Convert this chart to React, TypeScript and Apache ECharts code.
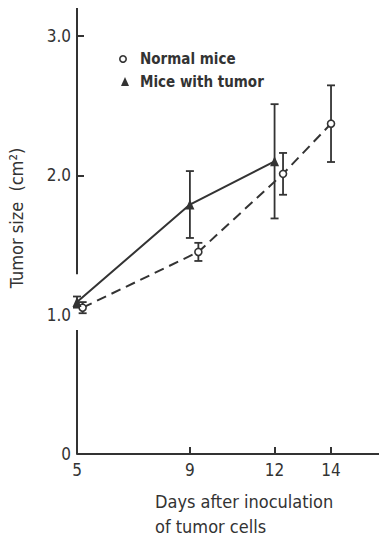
import React, { useEffect, useRef } from "react";
import * as echarts from "echarts";

// Data (x positions as drawn, slightly offset where the original offsets them)
const normalDays = [5.2, 9.3, 12.3, 14];
const normalMean = [1.05, 1.45, 2.01, 2.37];
const normalErr = [0.04, 0.065, 0.15, 0.275];

const tumorDays = [5, 9, 12];
const tumorMean = [1.09, 1.79, 2.1];
const tumorErr = [0.04, 0.24, 0.41];

const xLabelValues = [5, 9, 12, 14];
const xTickValues = [9, 12, 14];
const yLabelValues = [0, 1, 2, 3];
const yTickValues = [2, 3];

const C = "#333";
const F = "'Liberation Sans Narrow', 'DejaVu Sans Condensed', 'Liberation Sans', sans-serif";

function errData(days: number[], mean: number[], err: number[]) {
  return days.map((d, i) => [d, mean[i] - err[i], mean[i] + err[i]]);
}

function errRender(params: any, api: any) {
  const x = api.value(0);
  const lo = api.coord([x, api.value(1)]);
  const hi = api.coord([x, api.value(2)]);
  const w = 4;
  const st = { stroke: C, lineWidth: 1.8 };
  return {
    type: "group",
    children: [
      { type: "line", shape: { x1: lo[0], y1: lo[1], x2: hi[0], y2: hi[1] }, style: st },
      { type: "line", shape: { x1: lo[0] - w, y1: lo[1], x2: lo[0] + w, y2: lo[1] }, style: st },
      { type: "line", shape: { x1: hi[0] - w, y1: hi[1], x2: hi[0] + w, y2: hi[1] }, style: st },
    ],
  };
}

export default function App() {
  const ref = useRef<HTMLDivElement>(null);
  useEffect(() => {
    if (!ref.current) return;
    const chart = echarts.init(ref.current, null, { renderer: "svg" });
    const option: any = {
      animation: false,
      backgroundColor: "#fff",
      grid: { left: 77, right: 0, top: 8, bottom: 84 },
      xAxis: {
        type: "value",
        min: 5,
        max: 15.7,
        axisLine: { show: true, lineStyle: { color: C, width: 2 } },
        axisTick: { show: true, inside: true, length: 7, customValues: xTickValues, lineStyle: { color: C, width: 2 } },
        axisLabel: { customValues: xLabelValues, margin: 7, fontSize: 17, color: C, fontFamily: F },
        splitLine: { show: false },
      },
      yAxis: {
        type: "value",
        min: 0,
        max: 3.2,
        axisLine: { show: false },
        axisTick: { show: true, inside: true, length: 7, customValues: yTickValues, lineStyle: { color: C, width: 2 } },
        axisLabel: {
          customValues: yLabelValues,
          margin: 6,
          fontSize: 17,
          color: C,
          fontFamily: F,
          formatter: (v: number) => (v === 0 ? "0" : v.toFixed(1)),
        },
        splitLine: { show: false },
      },
      graphic: [
        {
          type: "text",
          x: 16,
          y: 218,
          rotation: Math.PI / 2,
          style: { text: "Tumor size  (cm²)", fontSize: 18, fill: C, fontFamily: F, align: "center", verticalAlign: "middle" },
        },
        {
          type: "text",
          x: 155,
          y: 489,
          style: { text: "Days after inoculation\nof tumor cells", fontSize: 18, lineHeight: 25, fill: C, fontFamily: F },
        },
        { type: "circle", shape: { cx: 123, cy: 59, r: 3.2 }, style: { fill: "#fff", stroke: C, lineWidth: 1.6 } },
        { type: "polygon", shape: { points: [[125, 77], [121, 86], [129, 86]] }, style: { fill: C } },
        {
          type: "text",
          x: 140,
          y: 59,
          style: { text: "Normal mice", fontSize: 15, fontWeight: "bold", fill: C, fontFamily: F, verticalAlign: "middle" },
        },
        {
          type: "text",
          x: 140,
          y: 82,
          style: { text: "Mice with tumor", fontSize: 15, fontWeight: "bold", fill: C, fontFamily: F, verticalAlign: "middle" },
        },
      ],
      series: [
        {
          name: "axisLower",
          type: "line",
          data: [[5, 0], [5, 0.89]],
          symbol: "none",
          silent: true,
          clip: false,
          lineStyle: { color: C, width: 2 },
        },
        {
          name: "axisUpper",
          type: "line",
          data: [[5, 1.29], [5, 3.2]],
          symbol: "none",
          silent: true,
          clip: false,
          lineStyle: { color: C, width: 2 },
        },
        {
          name: "Normal mice error",
          type: "custom",
          renderItem: errRender,
          data: errData(normalDays, normalMean, normalErr),
          encode: { x: 0, y: [1, 2] },
          clip: false,
          z: 2,
        },
        {
          name: "Mice with tumor error",
          type: "custom",
          renderItem: errRender,
          data: errData(tumorDays, tumorMean, tumorErr),
          encode: { x: 0, y: [1, 2] },
          clip: false,
          z: 2,
        },
        {
          name: "Normal mice",
          type: "line",
          data: normalDays.map((d, i) => [d, normalMean[i]]),
          symbol: "circle",
          symbolSize: 7,
          showAllSymbol: true,
          clip: false,
          z: 5,
          itemStyle: { color: "#fff", borderColor: C, borderWidth: 1.6 },
          lineStyle: { color: C, width: 2, type: [10, 6] },
        },
        {
          name: "Mice with tumor",
          type: "line",
          data: tumorDays.map((d, i) => [d, tumorMean[i]]),
          symbol: "triangle",
          symbolSize: [9, 10],
          clip: false,
          z: 5,
          itemStyle: { color: C },
          lineStyle: { color: C, width: 2 },
        },
      ],
    };
    chart.setOption(option);
    return () => chart.dispose();
  }, []);
  return (
    <div
      ref={ref}
      style={{ position: "fixed", left: 0, top: 0, width: 379, height: 538 }}
    />
  );
}
